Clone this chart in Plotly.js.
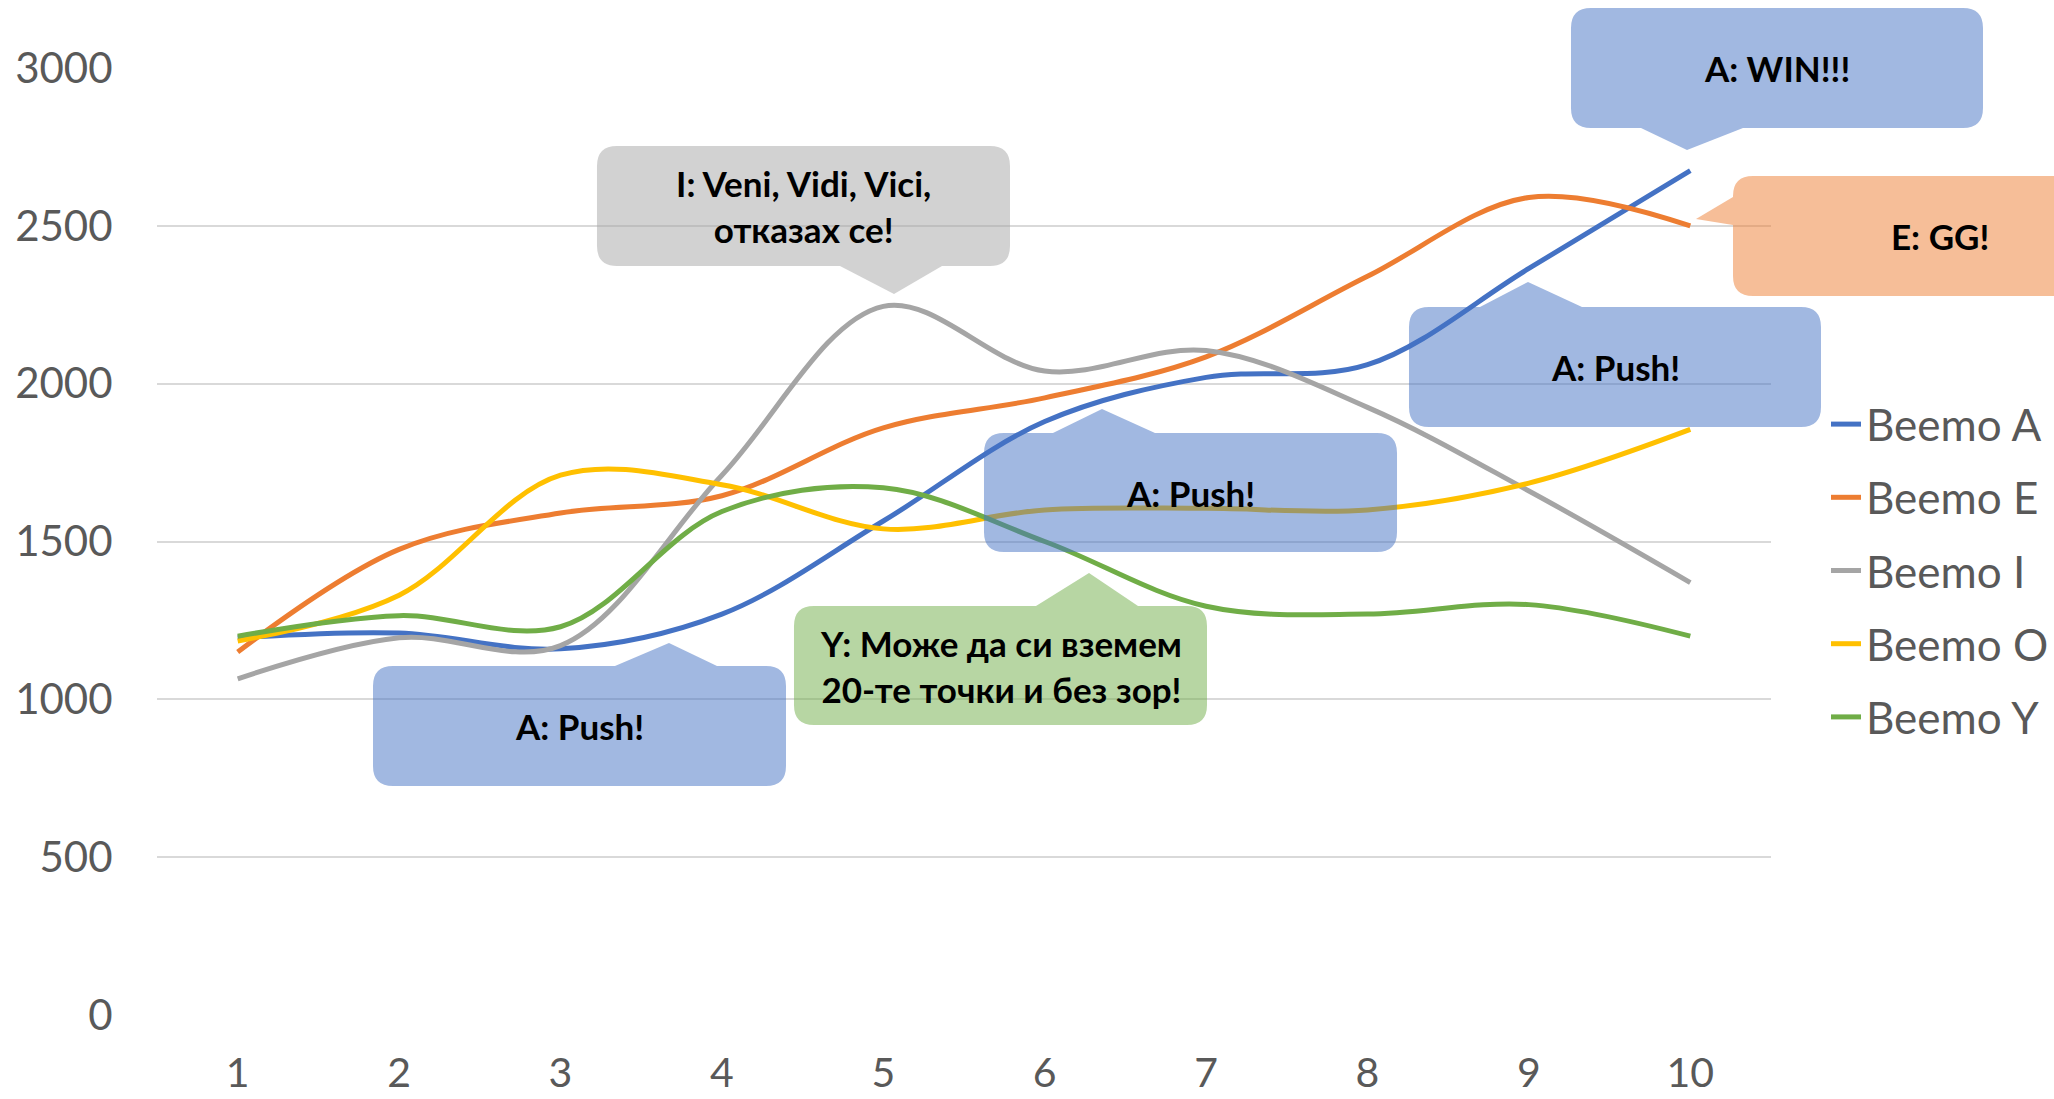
<!DOCTYPE html>
<html>
<head>
<meta charset="utf-8">
<script src="https://cdn.plot.ly/plotly-3.0.1.min.js"></script>
<style>
html,body{margin:0;padding:0;background:#ffffff;}
#chart{width:2054px;height:1099px;}
</style>
</head>
<body>
<div id="chart"></div>
<script>
// ---- data ----
const categories = [1, 2, 3, 4, 5, 6, 7, 8, 9, 10];
const seriesNames = ['Beemo A', 'Beemo E', 'Beemo I', 'Beemo O', 'Beemo Y'];
const beemoA = [1195, 1210, 1160, 1270, 1565, 1880, 2020, 2060, 2365, 2675];
const beemoE = [1150, 1475, 1590, 1645, 1860, 1955, 2085, 2340, 2590, 2500];
const beemoI = [1065, 1195, 1170, 1710, 2245, 2040, 2105, 1925, 1660, 1370];
const beemoO = [1185, 1330, 1710, 1680, 1540, 1600, 1605, 1600, 1685, 1855];
const beemoY = [1200, 1265, 1230, 1595, 1670, 1500, 1295, 1270, 1300, 1200];
const yTicks = [0, 500, 1000, 1500, 2000, 2500, 3000];

const seriesValues = [beemoA, beemoE, beemoI, beemoO, beemoY];
const colors = ['#4472C4', '#ED7D31', '#A5A5A5', '#FFC000', '#70AD47'];
const fillColors = ['rgba(68,114,196,0.5)', 'rgba(237,125,49,0.5)', 'rgba(165,165,165,0.5)',
                    'rgba(255,192,0,0.5)', 'rgba(112,173,71,0.5)'];

// ---- layout geometry (page pixels) ----
const W = 2054, H = 1099;
const mL = 157, mR = 283, mT = 68, mB = 84;
const plotW = W - mL - mR, plotH = H - mT - mB;
const plotBottom = H - mB;
const FONT = 'Lato, "Open Sans", "DejaVu Sans", sans-serif';

function px(x, y) {
  return ((x - mL) / plotW).toFixed(5) + ',' + ((plotBottom - y) / plotH).toFixed(5);
}
function bubblePath(b) {
  const {x0, y0, x1, y1} = b, r = 20, t = b.tail;
  let d = 'M' + px(x0 + r, y0);
  if (t.side === 'top') t.pts.forEach(p => d += ' L' + px(p[0], p[1]));
  d += ' L' + px(x1 - r, y0) + ' Q' + px(x1, y0) + ' ' + px(x1, y0 + r);
  d += ' L' + px(x1, y1 - r) + ' Q' + px(x1, y1) + ' ' + px(x1 - r, y1);
  if (t.side === 'bottom') t.pts.slice().reverse().forEach(p => d += ' L' + px(p[0], p[1]));
  d += ' L' + px(x0 + r, y1) + ' Q' + px(x0, y1) + ' ' + px(x0, y1 - r);
  if (t.side === 'left') t.pts.slice().reverse().forEach(p => d += ' L' + px(p[0], p[1]));
  d += ' L' + px(x0, y0 + r) + ' Q' + px(x0, y0) + ' ' + px(x0 + r, y0) + ' Z';
  return d;
}

// callouts: series index, text, box and tail placement (page pixels)
const callouts = [
  {s: 2, text: 'I: Veni, Vidi, Vici,<br>отказах се!', x0: 597, y0: 146, x1: 1010, y1: 266,
   tail: {side: 'bottom', pts: [[840, 266], [894, 294], [942, 266]]}},
  {s: 0, text: 'A: WIN!!!', x0: 1571, y0: 8, x1: 1983, y1: 128,
   tail: {side: 'bottom', pts: [[1641, 128], [1687, 150], [1743, 128]]}},
  {s: 1, text: 'E: GG!', x0: 1733, y0: 176, x1: 2146, y1: 296,
   tail: {side: 'left', pts: [[1733, 197], [1696, 219], [1733, 225]]}},
  {s: 0, text: 'A: Push!', x0: 1409, y0: 307, x1: 1821, y1: 427,
   tail: {side: 'top', pts: [[1480, 307], [1528, 282], [1582, 307]]}},
  {s: 0, text: 'A: Push!', x0: 984, y0: 433, x1: 1397, y1: 552,
   tail: {side: 'top', pts: [[1053, 433], [1102, 409], [1155, 433]]}},
  {s: 0, text: 'A: Push!', x0: 373, y0: 666, x1: 786, y1: 786,
   tail: {side: 'top', pts: [[615, 666], [669, 643], [717, 666]]}},
  {s: 4, text: 'Y: Може да си вземем<br>20-те точки и без зор!', x0: 794, y0: 606, x1: 1207, y1: 725,
   tail: {side: 'top', pts: [[1036, 606], [1089, 573], [1138, 606]]}}
];

const traces = seriesNames.map((name, i) => ({
  type: 'scatter', mode: 'lines', name: name, legendgroup: name,
  x: categories, y: seriesValues[i],
  line: {color: colors[i], width: 5, shape: 'spline', smoothing: 1.0},
  hoverinfo: 'x+y+name'
}));

const shapes = callouts.map(c => ({
  type: 'path', xref: 'paper', yref: 'paper', layer: 'above',
  path: bubblePath(c), fillcolor: fillColors[c.s], line: {width: 0}
}));

const annotations = callouts.map(c => ({
  xref: 'paper', yref: 'paper', showarrow: false,
  x: ((c.x0 + c.x1) / 2 - mL) / plotW,
  y: (plotBottom - (c.y0 + c.y1) / 2) / plotH,
  xanchor: 'center', yanchor: 'middle', align: 'center',
  text: '<b>' + c.text + '</b>',
  font: {family: FONT, size: 35, color: '#000000'}
}));

const layout = {
  width: W, height: H,
  margin: {l: mL, r: mR, t: mT, b: mB, pad: 0, autoexpand: false},
  paper_bgcolor: '#ffffff', plot_bgcolor: '#ffffff',
  font: {family: FONT, color: '#595959'},
  showlegend: true,
  legend: {
    x: (1826 - mL) / plotW, xanchor: 'left',
    y: (plotBottom - 389) / plotH, yanchor: 'top',
    bgcolor: 'rgba(0,0,0,0)', borderwidth: 0,
    font: {family: FONT, size: 44, color: '#595959'},
    tracegroupgap: 13, itemwidth: 30
  },
  xaxis: {
    range: [0.5, 10.5], tickvals: categories, ticktext: categories.map(String),
    showgrid: false, zeroline: false, showline: false, automargin: false,
    ticks: 'outside', ticklen: 22, tickcolor: 'rgba(0,0,0,0)',
    tickfont: {family: FONT, size: 41, color: '#595959'}, fixedrange: true
  },
  yaxis: {
    range: [0, 3000], tickvals: yTicks, ticktext: yTicks.map(String),
    showgrid: true, gridcolor: '#D9D9D9', gridwidth: 2,
    zeroline: false, showline: false, automargin: false,
    ticks: 'outside', ticklen: 35, tickcolor: 'rgba(0,0,0,0)',
    tickfont: {family: FONT, size: 42, color: '#595959'}, fixedrange: true
  },
  shapes: shapes,
  annotations: annotations
};

Plotly.newPlot('chart', traces, layout, {displayModeBar: false, staticPlot: true});
</script>
</body>
</html>
